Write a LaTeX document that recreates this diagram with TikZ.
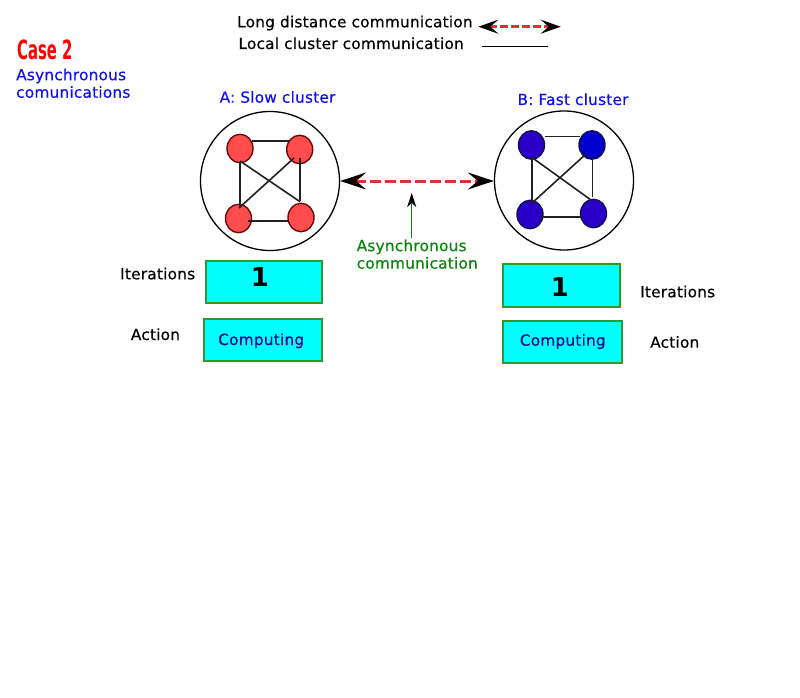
\documentclass[tikz,border=0pt]{standalone}
\usepackage{fontspec}
\setmainfont{DejaVu Sans}[LetterSpace=1.5, FakeBold=0.4]
\newfontfamily\casefont{DejaVu Sans}[FakeStretch=0.56]
\newfontfamily\numfont{DejaVu Sans}
\usetikzlibrary{arrows.meta,calc,shapes.geometric}
\definecolor{txtblue}{HTML}{1010F0}
\definecolor{txtgreen}{HTML}{0A850A}
\definecolor{navytxt}{HTML}{0A0A8C}
\definecolor{dashred}{HTML}{DD3333}
\definecolor{redfill}{HTML}{FF4D4D}
\definecolor{redborder}{HTML}{6B0A0A}
\definecolor{bluefillA}{HTML}{2A00C8}
\definecolor{bluefillB}{HTML}{0000CD}
\definecolor{blueborder}{HTML}{101050}
\definecolor{boxborder}{HTML}{2E9A2E}
\definecolor{boxfill}{HTML}{00FFFF}
\tikzset{
  txt/.style={font=\fontsize{15.3}{17.5}\selectfont, inner sep=0pt},
  cluster/.style={circle, draw=black, line width=1.3pt, minimum size=139pt, inner sep=0pt},
  rnode/.style={ellipse, draw=redborder, fill=redfill, line width=1.4pt, minimum width=26pt, minimum height=28.5pt, inner sep=0pt},
  bnode/.style={ellipse, draw=blueborder, fill=bluefillA, line width=1.4pt, minimum width=26pt, minimum height=28.5pt, inner sep=0pt},
  link/.style={draw=black!87, line width=1.6pt},
  infobox/.style={rectangle, draw=boxborder, fill=boxfill, line width=1.8pt, inner sep=0pt},
  longarrow/.style={dashred, line width=3pt, dash pattern=on 11.5pt off 3.5pt,
     {Stealth[length=26pt,width=17pt,inset=10pt,black]}-{Stealth[length=26pt,width=17pt,inset=10pt,black]}},
  legarrow/.style={dashred, line width=2.5pt, dash pattern=on 8pt off 3pt,
     {Stealth[length=20pt,width=14pt,inset=8pt,black]}-{Stealth[length=20pt,width=14pt,inset=8pt,black]}},
  numtxt/.style={font=\numfont\fontsize{26}{30}\selectfont\bfseries, inner sep=0pt, anchor=base},
  comptxt/.style={txt, text=navytxt, anchor=base},
}
\begin{document}
\begin{tikzpicture}[x=1pt,y=-1pt]
\path[use as bounding box, fill=white] (0,0) rectangle (800,698);

% legend
\node[txt, anchor=base west] (leg1) at (237,27.3) {Long distance communication};
\node[txt, anchor=base west] (leg2) at (238.3,49) {Local cluster communication};
\coordinate (la1) at (478.3,26.7);
\coordinate (la2) at (560.7,26.7);
\draw[legarrow] (la1) -- (la2);
\coordinate (ll1) at (482.3,46.7);
\coordinate (ll2) at (548.3,46.7);
\draw[black, line width=1.5pt] (ll1) -- (ll2);

% case title
\node[anchor=base west, inner sep=0pt, text=red, font=\casefont\bfseries\fontsize{26.5}{30}\selectfont] (case) at (17,59.3) {Case 2};
\node[txt, text=txtblue, anchor=north west, align=left] (asyncti) at (16,68.4) {Asynchronous\\comunications};

% cluster titles
\node[txt, text=txtblue, anchor=base] (ta) at (277.5,102.7) {A: Slow cluster};
\node[txt, text=txtblue, anchor=base] (tb) at (573,105) {B: Fast cluster};

% clusters
\node[cluster] (ca) at (270,181) {};
\node[cluster] (cb) at (564,180.5) {};

% cluster A nodes
\node[rnode] (a1) at (240,148.5) {};
\node[rnode] (a2) at (299.7,149.5) {};
\node[rnode] (a3) at (238.5,218.5) {};
\node[rnode] (a4) at (301,217.5) {};
\draw[link] ($(a1)+(11.7,-7.5)$) -- ($(a2)+(-10.7,-8.5)$);
\draw[link] ($(a1)+(0,13.2)$) -- ($(a3)+(1.5,-10.8)$);
\draw[link] ($(a2)+(0.3,8.5)$) -- ($(a4)+(-1,-16.5)$);
\draw[link] ($(a3)+(9.5,2.2)$) -- ($(a4)+(-13,3.2)$);
\draw[link] ($(a1)+(0,12.5)$) -- ($(a4)+(-1,-15.8)$);
\draw[link] ($(a2)+(-5.7,8.5)$) -- ($(a3)+(0.5,-10.5)$);

% cluster B nodes
\node[bnode] (b1) at (531.5,145) {};
\node[bnode, fill=bluefillB] (b2) at (592,145) {};
\node[bnode] (b3) at (530,214.5) {};
\node[bnode] (b4) at (593.5,213.5) {};
\draw[link] ($(b1)+(13.5,-8.3)$) -- ($(b2)+(-12,-8.3)$);
\draw[link] ($(b1)+(0.2,12)$) -- ($(b3)+(1.7,-10.5)$);
\draw[link] ($(b2)+(0.3,13)$) -- ($(b4)+(-1.2,-16.8)$);
\draw[link] ($(b3)+(10,2.2)$) -- ($(b4)+(-12.8,3.2)$);
\draw[link] ($(b1)+(0.2,12.3)$) -- ($(b4)+(-3.5,-14.2)$);
\draw[link] ($(b2)+(-6,9)$) -- ($(b3)+(1.7,-11.2)$);

% long distance arrow
\draw[longarrow] (ca.east) -- (ca.east -| cb.west);

% asynchronous communication pointer
\coordinate (gs) at (411.7,238);
\coordinate (ge) at (411.7,193);
\draw[txtgreen, line width=1.5pt, -{Stealth[length=14pt,width=9pt,inset=4pt,black]}] (gs) -- (ge);
\node[txt, text=txtgreen, anchor=north west, align=left] (asynclab) at (356.5,239.3) {Asynchronous\\communication};

% boxes A
\node[infobox, minimum width=116pt, minimum height=42.6pt] (ia) at (264,282) {};
\node[numtxt] (na) at (260,286.7) {1};
\node[infobox, minimum width=118.3pt, minimum height=41.7pt] (aa) at (262.8,339.8) {};
\node[comptxt] (cta) at (261.2,345) {Computing};
\node[txt, anchor=base west] (ila) at (120,279.3) {Iterations};
\node[txt, anchor=base west] (ala) at (130.7,340) {Action};

% boxes B
\node[infobox, minimum width=117pt, minimum height=43pt] (ib) at (561.5,285.8) {};
\node[numtxt] (nb) at (560,296.7) {1};
\node[infobox, minimum width=119pt, minimum height=42.6pt] (ab) at (562.5,342) {};
\node[comptxt] (ctb) at (562.8,345.7) {Computing};
\node[txt, anchor=base west] (ilb) at (640,297.3) {Iterations};
\node[txt, anchor=base west] (alb) at (650,347.7) {Action};
\end{tikzpicture}
\end{document}
